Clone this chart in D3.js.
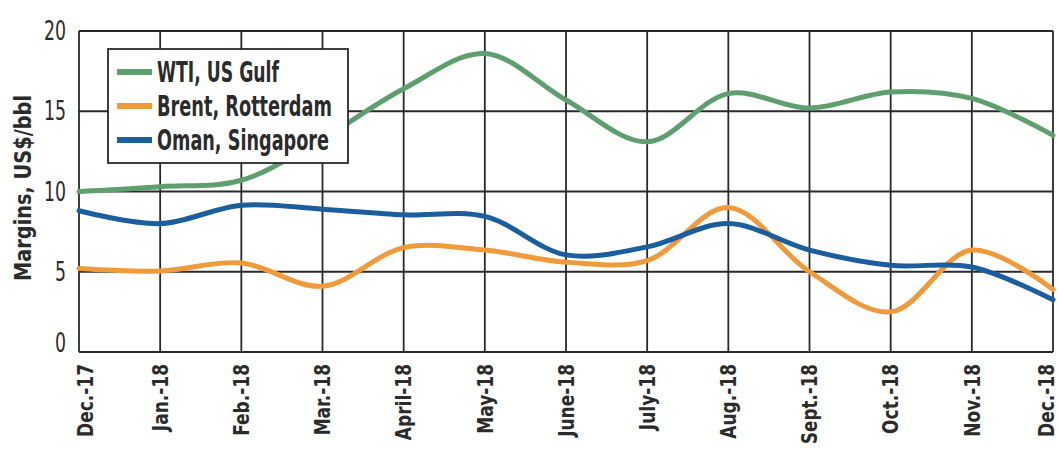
<!DOCTYPE html>
<html><head><meta charset="utf-8">
<script src="https://cdn.jsdelivr.net/npm/d3@7"></script>
<style>
html,body{margin:0;padding:0;background:#fff;}
text{font-family:"Liberation Sans Narrow","DejaVu Sans Condensed","Roboto Condensed","Liberation Sans",sans-serif;fill:#2b2b2b;}
</style></head>
<body><svg id="chart" width="1058" height="449"></svg>
<script>
const months = ["Dec.-17","Jan.-18","Feb.-18","Mar.-18","April-18","May-18","June-18","July-18","Aug.-18","Sept.-18","Oct.-18","Nov.-18","Dec.-18"];
const wti   = [10.0,10.3,10.7,13.3,16.4,18.6,15.7,13.1,16.1,15.2,16.2,15.8,13.5];
const brent = [5.2,5.05,5.55,4.1,6.5,6.35,5.6,5.7,9.0,5.0,2.5,6.35,3.9];
const oman  = [8.8,8.0,9.15,8.9,8.55,8.45,6.05,6.55,8.0,6.35,5.4,5.3,3.25];
const yTicks = [0,5,10,15,20];
const seriesNames = ["WTI, US Gulf","Brent, Rotterdam","Oman, Singapore"];
const seriesColors = ["#5f9f6f","#ef9b3c","#1b5e9e"];
const yTitle = "Margins, US$/bbl";

const svg = d3.select("#chart");
const L = 79, R = 1053, T = 31, B = 352;
const x = d3.scalePoint().domain(months).range([L, R]);
const y = d3.scaleLinear().domain([0, 20]).range([B, T]);
const gridColor = "#2a2a2a";

// grid
svg.append("g").selectAll("line").data(months).join("line")
  .attr("x1", d => x(d)).attr("x2", d => x(d)).attr("y1", T).attr("y2", B)
  .attr("stroke", gridColor).attr("stroke-width", 1.8);
svg.append("g").selectAll("line").data(yTicks).join("line")
  .attr("x1", L).attr("x2", R).attr("y1", d => y(d)).attr("y2", d => y(d))
  .attr("stroke", gridColor).attr("stroke-width", 1.8);

// y axis labels
svg.append("g").selectAll("text").data(yTicks).join("text")
  .attr("x", 66).attr("y", d => y(d) - (d === 0 ? 9 : 0))
  .attr("dy", "0.35em").attr("text-anchor", "end")
  .attr("font-size", 26)
  .attr("textLength", d => String(d).length * 11).attr("lengthAdjust", "spacingAndGlyphs")
  .text(d => d);

// x axis labels
const xl = svg.append("g").selectAll("text").data(months).join("text")
  .attr("transform", (d, i) => `translate(${x(d) + (i === 0 ? 6 : (i === months.length - 1 ? -7 : 0))},364) rotate(-90)`)
  .attr("text-anchor", "end").attr("dy", "0.35em")
  .attr("font-size", 22).attr("font-weight", "bold")
  .text(d => d);
xl.each(function() {
  const w = this.getComputedTextLength();
  d3.select(this).attr("textLength", Math.min(w * 0.86, 80)).attr("lengthAdjust", "spacingAndGlyphs");
});

// y title
svg.append("text")
  .attr("transform", "translate(23,188) rotate(-90)")
  .attr("text-anchor", "middle").attr("dy", "0.35em")
  .attr("font-size", 23).attr("font-weight", "bold")
  .attr("textLength", 186).attr("lengthAdjust", "spacingAndGlyphs")
  .text(yTitle);

// lines
const line = d3.line().x((d, i) => x(months[i])).y(d => y(d)).curve(d3.curveCatmullRom.alpha(0.5));
const allSeries = [wti, brent, oman];
svg.append("g").selectAll("path").data(allSeries).join("path")
  .attr("d", d => line(d)).attr("fill", "none")
  .attr("stroke", (d, i) => seriesColors[i]).attr("stroke-width", 5)
  .attr("stroke-linecap", "round");

// legend
const lg = svg.append("g");
lg.append("rect").attr("x", 108).attr("y", 49).attr("width", 240).attr("height", 114)
  .attr("fill", "#fff").attr("stroke", gridColor).attr("stroke-width", 1.8);
const rowY = [72, 106, 140];
const textW = [122, 175, 172];
seriesNames.forEach((n, i) => {
  lg.append("line").attr("x1", 117).attr("x2", 152).attr("y1", rowY[i]).attr("y2", rowY[i])
    .attr("stroke", seriesColors[i]).attr("stroke-width", 6);
  lg.append("text").attr("x", 157).attr("y", rowY[i]).attr("dy", "0.35em")
    .attr("font-size", 28).attr("font-weight", "bold")
    .attr("textLength", textW[i]).attr("lengthAdjust", "spacingAndGlyphs")
    .text(n);
});
</script></body></html>
